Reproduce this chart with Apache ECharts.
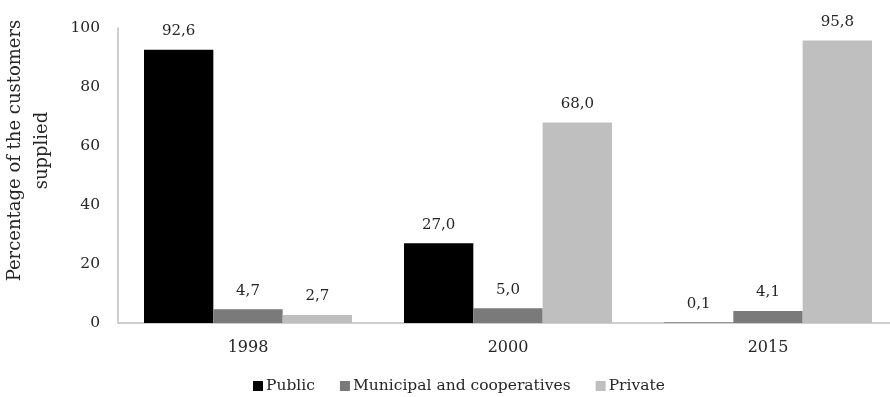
<!DOCTYPE html>
<html>
<head>
<meta charset="utf-8">
<script src="https://cdn.jsdelivr.net/npm/echarts@6/dist/echarts.min.js"></script>
<style>
  html, body { margin: 0; padding: 0; background: #fff; }
  #chart { width: 890px; height: 397px; }
</style>
</head>
<body>
<div id="chart"></div>
<script>
// Share of customers supplied, by operator type and year
const years = ['1998', '2000', '2015'];
const publicShare = [92.6, 27.0, 0.1];
const municipalShare = [4.7, 5.0, 4.1];
const privateShare = [2.7, 68.0, 95.8];
const yTicks = [0, 20, 40, 60, 80, 100];

const FONT = 'DejaVu Serif';
const TEXT = '#262626';

function commaLabel(p) {
  return p.value.toFixed(1).replace('.', ',');
}

function barSeries(name, data, color) {
  return {
    name: name,
    type: 'bar',
    data: data,
    barGap: '0%',
    barCategoryGap: '20%',
    itemStyle: { color: color },
    label: {
      show: true,
      position: 'top',
      distance: 11,
      formatter: commaLabel,
      fontFamily: FONT,
      fontSize: 15,
      color: TEXT
    }
  };
}

const chart = echarts.init(document.getElementById('chart'));
chart.setOption({
  animation: false,
  backgroundColor: '#fff',
  grid: { left: 118, right: -8, top: 28, bottom: 74, containLabel: false, outerBoundsMode: 'none' },
  legend: {
    left: 248,
    top: 373,
    itemWidth: 10,
    itemHeight: 10,
    itemGap: 25,
    icon: 'rect',
    textStyle: { fontFamily: FONT, fontSize: 15.5, color: TEXT, padding: [0, 0, 0, -2] },
    data: ['Public', 'Municipal and cooperatives', 'Private']
  },
  xAxis: {
    type: 'category',
    data: years,
    axisLine: { lineStyle: { color: '#bfbfbf', width: 1.5 } },
    axisTick: { show: false },
    axisLabel: { fontFamily: FONT, fontSize: 16, color: TEXT, margin: 17 }
  },
  yAxis: {
    type: 'value',
    min: yTicks[0],
    max: yTicks[yTicks.length - 1],
    interval: yTicks[1] - yTicks[0],
    name: 'Percentage of the customers\nsupplied',
    nameLocation: 'middle',
    nameGap: 62,
    nameTextStyle: {
      fontFamily: FONT, fontSize: 18, color: TEXT, lineHeight: 27,
      padding: [0, 0, 0, 50]
    },
    axisLine: { show: true, lineStyle: { color: '#bfbfbf', width: 1.5 } },
    axisTick: { show: false },
    splitLine: { show: false },
    axisLabel: { fontFamily: FONT, fontSize: 15.5, color: TEXT, margin: 18 }
  },
  series: [
    barSeries('Public', publicShare, '#000000'),
    barSeries('Municipal and cooperatives', municipalShare, '#7a7a7a'),
    barSeries('Private', privateShare, '#bfbfbf')
  ]
});
</script>
</body>
</html>
